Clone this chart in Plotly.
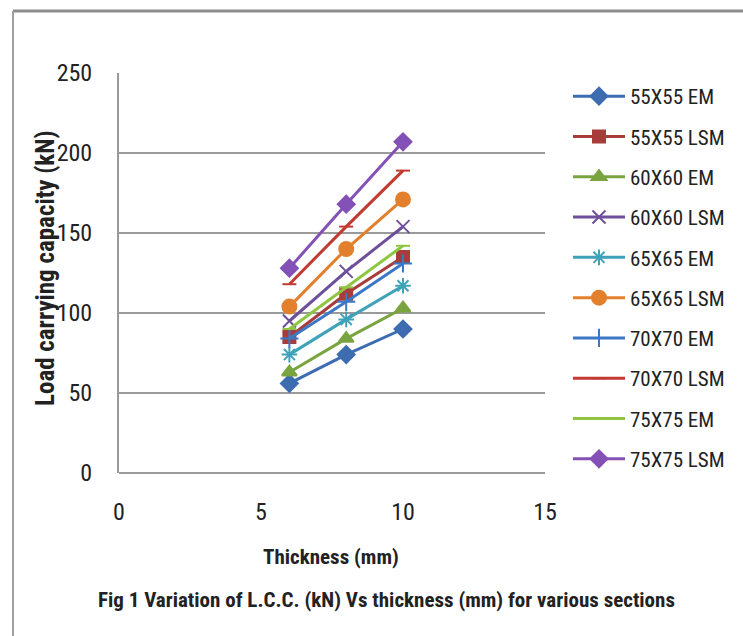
import plotly.graph_objects as go

thickness = [6, 8, 10]
series_names = ["55X55 EM", "55X55 LSM", "60X60 EM", "60X60 LSM", "65X65 EM",
                "65X65 LSM", "70X70 EM", "70X70 LSM", "75X75 EM", "75X75 LSM"]
s55_em = [56, 74, 90]
s55_lsm = [85, 112, 135]
s60_em = [63, 84, 103]
s60_lsm = [95, 126, 154]
s65_em = [74, 96, 117]
s65_lsm = [104, 140, 171]
s70_em = [84, 107, 131]
s70_lsm = [118, 154, 189]
s75_em = [90, 116, 142]
s75_lsm = [128, 168, 207]
values = [s55_em, s55_lsm, s60_em, s60_lsm, s65_em, s65_lsm, s70_em, s70_lsm, s75_em, s75_lsm]

colors = ["#3D6CB0", "#A83C3A", "#79A440", "#6D4F9B", "#3FA2B9",
          "#E2802E", "#3B78C6", "#C23A30", "#8EC641", "#8451B6"]
symbols = ["diamond", "square", "triangle-up", "x-thin-open", "asterisk-open",
           "circle", "cross-thin-open", "line-ew-open", "line-ew-open", "diamond"]
sizes = [13, 12, 13, 13, 13, 14, 13, 10, 10, 13]

FONT = "Roboto Condensed, Liberation Sans Narrow, Arial Narrow, Liberation Sans, sans-serif"

fig = go.Figure()
for i, name in enumerate(series_names):
    fig.add_trace(go.Scatter(
        x=thickness, y=values[i], name=name, mode="lines+markers",
        legendgroup=str(i),
        line=dict(color=colors[i], width=3),
        marker=dict(symbol=symbols[i], size=sizes[i], color=colors[i],
                    line=dict(color=colors[i], width=2)),
    ))

W, H = 743, 636
L, R, T, B = 119, 545, 73, 473
pw, ph = R - L, B - T

def px(x):
    return (x - L) / pw

def py(y):
    return (B - y) / ph

fig.update_layout(
    width=W, height=H,
    margin=dict(l=L, r=W - R, t=T, b=H - B, pad=0),
    paper_bgcolor="white", plot_bgcolor="white",
    font=dict(family=FONT, color="#222222"),
    showlegend=True,
    legend=dict(x=px(568), y=py(76), xanchor="left", yanchor="top",
                font=dict(size=21, family=FONT, color="#222222"),
                tracegroupgap=10, traceorder="grouped", maxheight=620,
                itemwidth=52, bgcolor="rgba(0,0,0,0)"),
    xaxis=dict(range=[0, 15], tickvals=[0, 5, 10, 15], showgrid=False,
               zeroline=False, showline=False, ticks="",
               tickfont=dict(size=24, family=FONT, color="#222222"),
               ticklabelstandoff=22),
    yaxis=dict(range=[0, 250], tickvals=[0, 50, 100, 150, 200, 250],
               showgrid=True, gridcolor="#9A9A9A", gridwidth=2,
               zeroline=False, showline=True, linecolor="#9A9A9A", linewidth=2,
               ticks="", tickfont=dict(size=24, family=FONT, color="#222222"),
               ticklabelstandoff=20),
    annotations=[
        dict(text="Load carrying capacity (kN)", x=px(45), y=py(268), xref="paper", yref="paper",
             xanchor="center", yanchor="middle",
             textangle=-90, showarrow=False, font=dict(size=25, family=FONT, weight="bold", color="#222222")),
        dict(text="Thickness (mm)", x=px(331), y=py(557), xref="paper", yref="paper",
             xanchor="center", yanchor="middle",
             showarrow=False, font=dict(size=21, family=FONT, weight="bold", color="#222222")),
        dict(text="Fig 1 Variation of L.C.C. (kN) Vs thickness (mm) for various sections",
             x=px(386), y=py(600), xref="paper", yref="paper",
             xanchor="center", yanchor="middle",
             showarrow=False, font=dict(size=21, family=FONT, weight="bold", color="#222222")),
    ],
    shapes=[
        dict(type="line", xref="paper", yref="paper", x0=px(13), x1=px(743), y0=py(11), y1=py(11),
             line=dict(color="#8C8C8C", width=3)),
        dict(type="line", xref="paper", yref="paper", x0=px(13), x1=px(13), y0=py(11), y1=py(636),
             line=dict(color="#A0A0A0", width=2)),
        dict(type="line", xref="paper", yref="paper", x0=0, x1=1, y0=0, y1=0,
             line=dict(color="#9A9A9A", width=2)),
    ],
)

fig.write_html("out.html")
